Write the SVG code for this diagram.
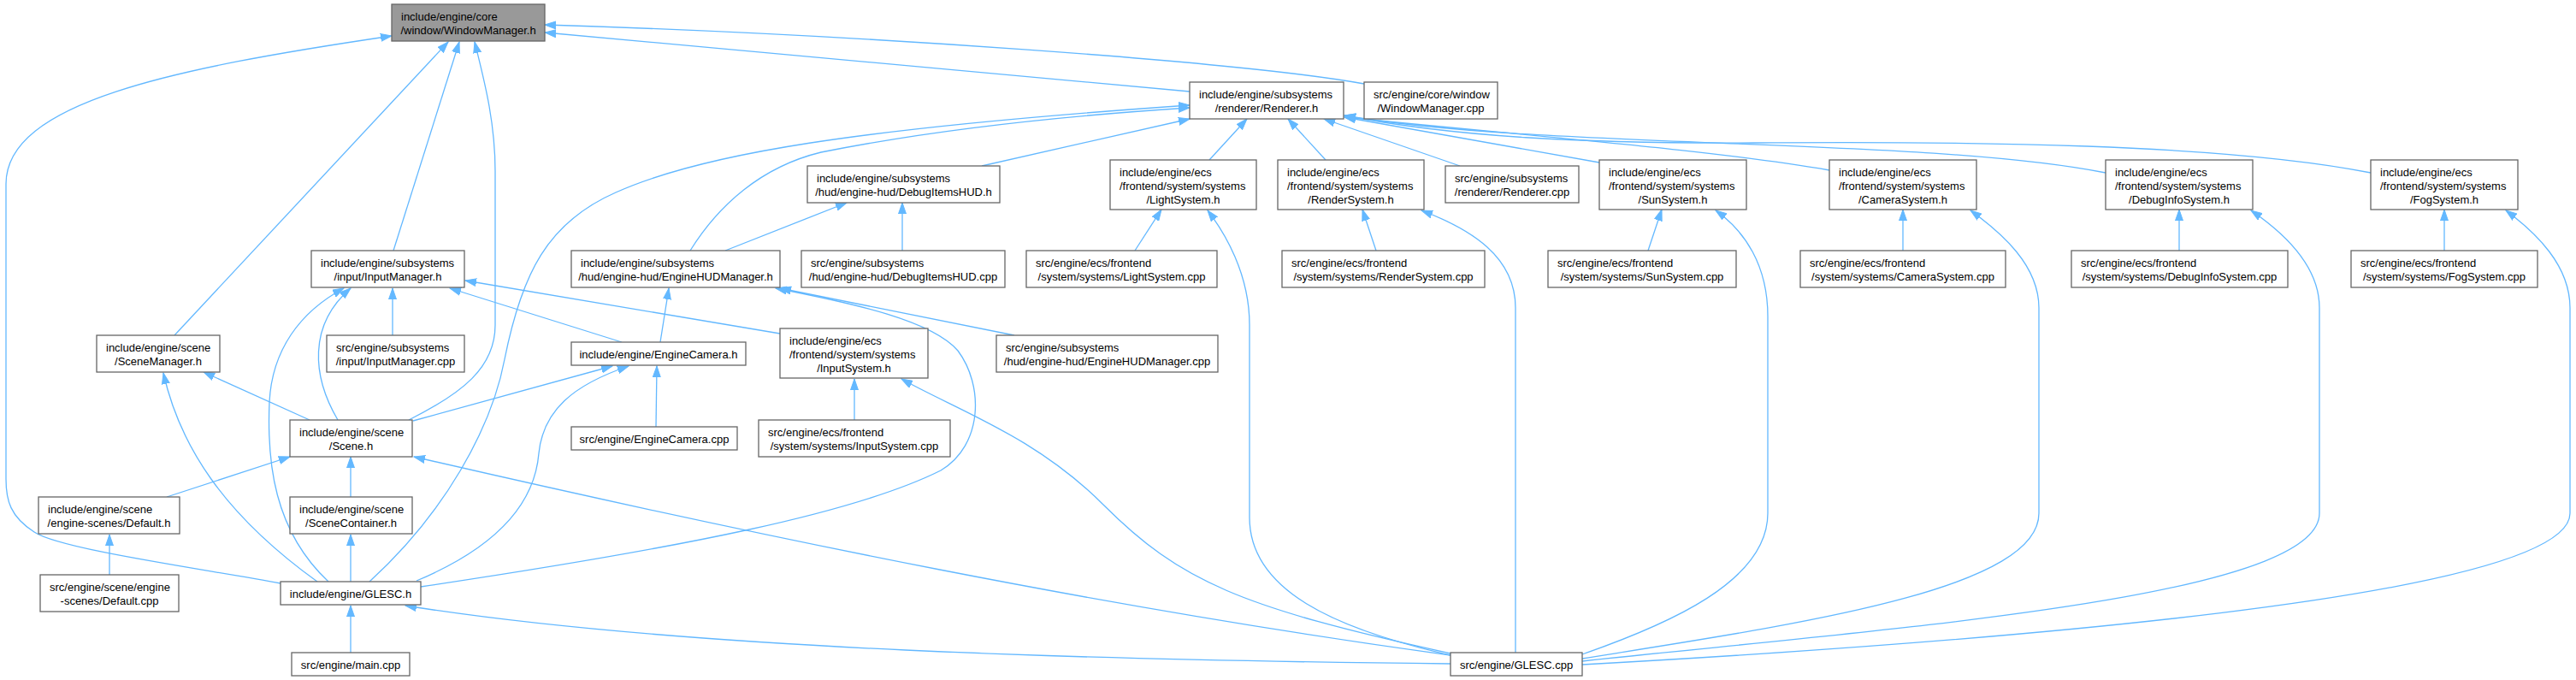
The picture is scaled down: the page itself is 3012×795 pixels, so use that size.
<svg xmlns="http://www.w3.org/2000/svg" width="3012" height="795" viewBox="0 0 3012 795">
<style>
.n rect{fill:#fff;stroke:#666;stroke-width:1.3}
.root rect{fill:#999}
text{font-family:"Liberation Sans",Arial,sans-serif;font-size:13px;fill:#000}
.c{text-anchor:middle}
.e path{fill:none;stroke:#63b8ff;stroke-width:1.3;marker-end:url(#ah)}
</style>
<defs>
<marker id="ah" markerUnits="userSpaceOnUse" markerWidth="14" markerHeight="10" refX="13" refY="5" orient="auto" viewBox="0 0 14 10"><path d="M0,0.5 L13,5 L0,9.5 Z" fill="#63b8ff" stroke="#63b8ff" stroke-width="1"/></marker>
</defs>
<rect width="3012" height="795" fill="#fff"/>
<g id="edges" class="e">
<path d="M328,682 C230,664 70,642 40,622 C12,604 7,585 7,560 L7,215 C7,120 200,80 458,42"/>
<path d="M204,392 L524,49"/>
<path d="M460,293 L537,49"/>
<path d="M478,491 C540,460 579,430 579,380 L579,200 C579,140 565,90 555,49"/>
<path d="M1391,107 L637,38"/>
<path d="M1595,98 C1450,72 1000,40 637,29"/>
<path d="M432,680 C520,600 575,500 590,420 C610,320 640,260 720,225 C820,180 1000,150 1391,123"/>
<path d="M807,293 C840,240 890,195 960,178 C1100,150 1250,135 1391,126"/>
<path d="M1148,194 L1391,139"/>
<path d="M1414,187 L1458,139"/>
<path d="M1550,187 L1506,139"/>
<path d="M1707,194 L1548,139"/>
<path d="M1870,190 L1572,137"/>
<path d="M2139,199 C2000,175 1800,160 1572,137"/>
<path d="M2462,202 C2250,160 1800,175 1572,135"/>
<path d="M2772,202 C2600,168 2300,165 2050,167 C1850,168 1700,160 1572,135"/>
<path d="M848,293 L990,237"/>
<path d="M1055,293 L1055,237"/>
<path d="M1327,293 L1358,245"/>
<path d="M1609,293 L1593,245"/>
<path d="M1927,293 L1943,245"/>
<path d="M2225,293 L2225,245"/>
<path d="M2548,293 L2548,245"/>
<path d="M2858,293 L2858,245"/>
<path d="M1696,766 C1560,735 1461,690 1461,605 L1461,380 C1461,320 1432,272 1412,246"/>
<path d="M1772,763 L1772,360 C1772,300 1720,268 1662,246"/>
<path d="M1850,765 C1950,730 2067,680 2067,600 L2067,370 C2067,310 2040,270 2006,246"/>
<path d="M1850,770 C2100,730 2384,690 2384,600 L2384,360 C2384,310 2340,272 2304,246"/>
<path d="M1850,773 C2200,735 2712,700 2712,600 L2712,360 C2712,310 2670,272 2632,246"/>
<path d="M1850,777 C2300,752 3005,700 3005,600 L3005,360 C3005,310 2965,272 2930,246"/>
<path d="M1696,764 C1450,710 1380,680 1290,590 C1210,510 1120,480 1054,443"/>
<path d="M1696,766 C1300,712 900,630 484,534"/>
<path d="M1696,776 C1300,772 800,760 474,708"/>
<path d="M371,680 C260,600 210,520 191,436"/>
<path d="M384,680 C320,620 312,540 315,470 C318,410 350,365 402,337"/>
<path d="M395,491 C365,440 360,380 410,337"/>
<path d="M410,680 L410,625"/>
<path d="M410,581 L410,534"/>
<path d="M195,581 L339,534"/>
<path d="M128,672 L128,625"/>
<path d="M410,763 L410,708"/>
<path d="M362,491 L238,435"/>
<path d="M483,492 L716,428"/>
<path d="M487,679 C580,640 625,590 630,530 C635,480 670,450 735,428"/>
<path d="M767,499 L768,428"/>
<path d="M727,400 L526,337"/>
<path d="M772,400 L782,337"/>
<path d="M912,390 L544,328"/>
<path d="M999,491 L999,443"/>
<path d="M459,392 L459,337"/>
<path d="M1186,392 L912,337"/>
<path d="M492,686 C800,640 1000,600 1100,550 C1150,520 1150,450 1120,410 C1090,375 1000,355 907,337"/>
</g>
<g id="n_wm" class="n root"><rect x="458" y="5" width="179" height="43"/><text x="469" y="23.5">include/engine/core</text><text class="c" x="547.5" y="39.5">/window/WindowManager.h</text></g>
<g id="n_renderer" class="n"><rect x="1391" y="96" width="180" height="43"/><text x="1402" y="114.5">include/engine/subsystems</text><text class="c" x="1481" y="130.5">/renderer/Renderer.h</text></g>
<g id="n_wmcpp" class="n"><rect x="1595" y="96" width="156" height="43"/><text x="1606" y="114.5">src/engine/core/window</text><text class="c" x="1673" y="130.5">/WindowManager.cpp</text></g>
<g id="n_debughud" class="n"><rect x="944" y="194" width="225" height="43"/><text x="955" y="212.5">include/engine/subsystems</text><text class="c" x="1056.5" y="228.5">/hud/engine-hud/DebugItemsHUD.h</text></g>
<g id="n_lightsys" class="n"><rect x="1298" y="187" width="171" height="58"/><text x="1309" y="205.5">include/engine/ecs</text><text x="1309" y="221.5">/frontend/system/systems</text><text class="c" x="1383.5" y="237.5">/LightSystem.h</text></g>
<g id="n_rendersys" class="n"><rect x="1494" y="187" width="171" height="58"/><text x="1505" y="205.5">include/engine/ecs</text><text x="1505" y="221.5">/frontend/system/systems</text><text class="c" x="1579.5" y="237.5">/RenderSystem.h</text></g>
<g id="n_renderercpp" class="n"><rect x="1690" y="194" width="156" height="43"/><text x="1701" y="212.5">src/engine/subsystems</text><text class="c" x="1768" y="228.5">/renderer/Renderer.cpp</text></g>
<g id="n_sunsys" class="n"><rect x="1870" y="187" width="172" height="58"/><text x="1881" y="205.5">include/engine/ecs</text><text x="1881" y="221.5">/frontend/system/systems</text><text class="c" x="1956" y="237.5">/SunSystem.h</text></g>
<g id="n_camsys" class="n"><rect x="2139" y="187" width="172" height="58"/><text x="2150" y="205.5">include/engine/ecs</text><text x="2150" y="221.5">/frontend/system/systems</text><text class="c" x="2225" y="237.5">/CameraSystem.h</text></g>
<g id="n_dbginfo" class="n"><rect x="2462" y="187" width="172" height="58"/><text x="2473" y="205.5">include/engine/ecs</text><text x="2473" y="221.5">/frontend/system/systems</text><text class="c" x="2548" y="237.5">/DebugInfoSystem.h</text></g>
<g id="n_fog" class="n"><rect x="2772" y="187" width="172" height="58"/><text x="2783" y="205.5">include/engine/ecs</text><text x="2783" y="221.5">/frontend/system/systems</text><text class="c" x="2858" y="237.5">/FogSystem.h</text></g>
<g id="n_inputmgr" class="n"><rect x="364" y="293" width="179" height="43"/><text x="375" y="311.5">include/engine/subsystems</text><text class="c" x="453.5" y="327.5">/input/InputManager.h</text></g>
<g id="n_hudmgr" class="n"><rect x="668" y="293" width="244" height="43"/><text x="679" y="311.5">include/engine/subsystems</text><text class="c" x="790" y="327.5">/hud/engine-hud/EngineHUDManager.h</text></g>
<g id="n_debughudcpp" class="n"><rect x="937" y="293" width="238" height="43"/><text x="948" y="311.5">src/engine/subsystems</text><text class="c" x="1056" y="327.5">/hud/engine-hud/DebugItemsHUD.cpp</text></g>
<g id="n_lightcpp" class="n"><rect x="1200" y="293" width="223" height="43"/><text x="1211" y="311.5">src/engine/ecs/frontend</text><text class="c" x="1311.5" y="327.5">/system/systems/LightSystem.cpp</text></g>
<g id="n_rendercpp" class="n"><rect x="1499" y="293" width="237" height="43"/><text x="1510" y="311.5">src/engine/ecs/frontend</text><text class="c" x="1617.5" y="327.5">/system/systems/RenderSystem.cpp</text></g>
<g id="n_suncpp" class="n"><rect x="1810" y="293" width="220" height="43"/><text x="1821" y="311.5">src/engine/ecs/frontend</text><text class="c" x="1920" y="327.5">/system/systems/SunSystem.cpp</text></g>
<g id="n_camcpp" class="n"><rect x="2105" y="293" width="240" height="43"/><text x="2116" y="311.5">src/engine/ecs/frontend</text><text class="c" x="2225" y="327.5">/system/systems/CameraSystem.cpp</text></g>
<g id="n_dbginfocpp" class="n"><rect x="2422" y="293" width="253" height="43"/><text x="2433" y="311.5">src/engine/ecs/frontend</text><text class="c" x="2548.5" y="327.5">/system/systems/DebugInfoSystem.cpp</text></g>
<g id="n_fogcpp" class="n"><rect x="2749" y="293" width="218" height="43"/><text x="2760" y="311.5">src/engine/ecs/frontend</text><text class="c" x="2858" y="327.5">/system/systems/FogSystem.cpp</text></g>
<g id="n_scenemgr" class="n"><rect x="113" y="392" width="144" height="43"/><text x="124" y="410.5">include/engine/scene</text><text class="c" x="185" y="426.5">/SceneManager.h</text></g>
<g id="n_inputcpp" class="n"><rect x="382" y="392" width="161" height="43"/><text x="393" y="410.5">src/engine/subsystems</text><text class="c" x="462.5" y="426.5">/input/InputManager.cpp</text></g>
<g id="n_enginecam" class="n"><rect x="668" y="400" width="204" height="27"/><text class="c" x="770" y="418.5">include/engine/EngineCamera.h</text></g>
<g id="n_inputsys" class="n"><rect x="912" y="384" width="173" height="58"/><text x="923" y="402.5">include/engine/ecs</text><text x="923" y="418.5">/frontend/system/systems</text><text class="c" x="998.5" y="434.5">/InputSystem.h</text></g>
<g id="n_hudcpp" class="n"><rect x="1165" y="392" width="259" height="43"/><text x="1176" y="410.5">src/engine/subsystems</text><text class="c" x="1294.5" y="426.5">/hud/engine-hud/EngineHUDManager.cpp</text></g>
<g id="n_scene" class="n"><rect x="339" y="491" width="143" height="43"/><text x="350" y="509.5">include/engine/scene</text><text class="c" x="410.5" y="525.5">/Scene.h</text></g>
<g id="n_enginecamcpp" class="n"><rect x="668" y="499" width="194" height="27"/><text class="c" x="765" y="517.5">src/engine/EngineCamera.cpp</text></g>
<g id="n_inputsyscpp" class="n"><rect x="887" y="491" width="224" height="43"/><text x="898" y="509.5">src/engine/ecs/frontend</text><text class="c" x="999" y="525.5">/system/systems/InputSystem.cpp</text></g>
<g id="n_default" class="n"><rect x="45" y="581" width="165" height="43"/><text x="56" y="599.5">include/engine/scene</text><text class="c" x="127.5" y="615.5">/engine-scenes/Default.h</text></g>
<g id="n_scenecont" class="n"><rect x="339" y="581" width="143" height="43"/><text x="350" y="599.5">include/engine/scene</text><text class="c" x="410.5" y="615.5">/SceneContainer.h</text></g>
<g id="n_defaultcpp" class="n"><rect x="47" y="672" width="162" height="43"/><text x="58" y="690.5">src/engine/scene/engine</text><text class="c" x="128" y="706.5">-scenes/Default.cpp</text></g>
<g id="n_glesch" class="n"><rect x="328" y="680" width="164" height="27"/><text class="c" x="410" y="698.5">include/engine/GLESC.h</text></g>
<g id="n_main" class="n"><rect x="341" y="763" width="138" height="27"/><text class="c" x="410" y="781.5">src/engine/main.cpp</text></g>
<g id="n_glesccpp" class="n"><rect x="1696" y="763" width="154" height="27"/><text class="c" x="1773" y="781.5">src/engine/GLESC.cpp</text></g>
</svg>
